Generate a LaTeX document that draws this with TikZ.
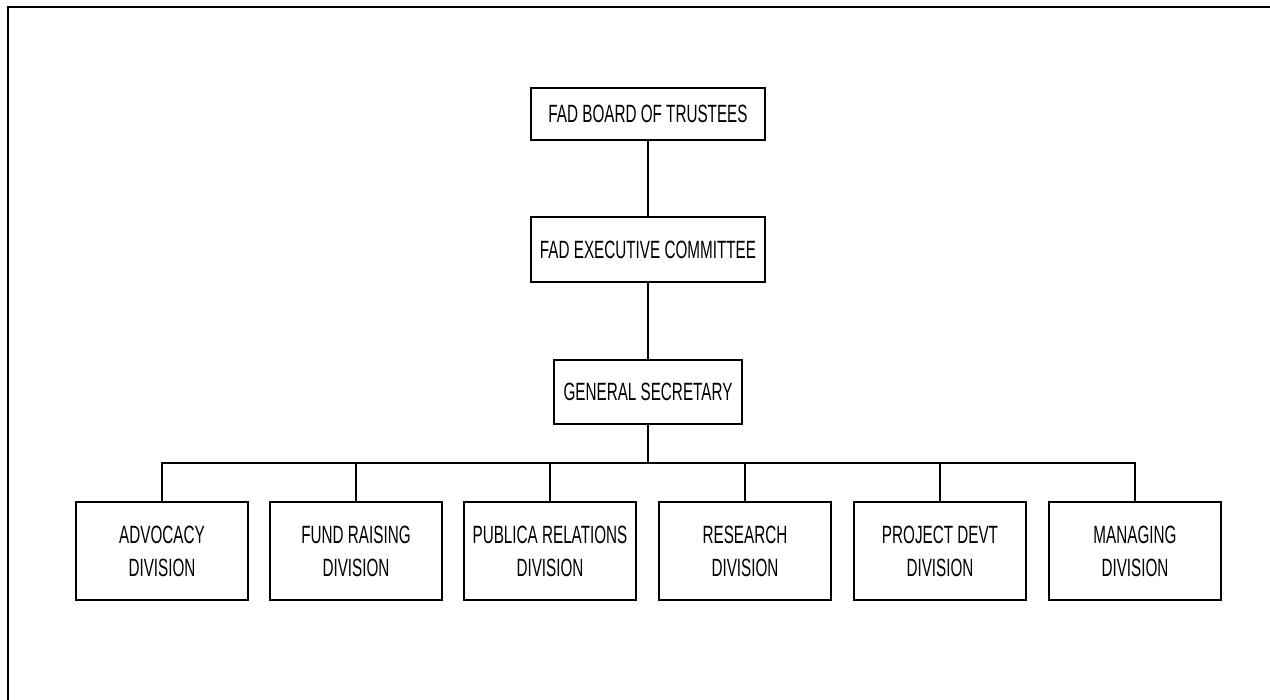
\documentclass[tikz,border=0pt]{standalone}
\usepackage{fontspec}
\setmainfont{Liberation Sans}[FakeStretch=0.61]
\begin{document}
\begin{tikzpicture}[x=1pt,y=-1pt,
  box/.style={draw=black,line width=2.6pt,fill=white,inner sep=0pt,
    align=center,font=\fontsize{25}{33}\selectfont},
  topbox/.style={box,minimum width=234pt},
  divbox/.style={box,minimum width=172pt,minimum height=98pt},
  link/.style={line width=2pt}]
\useasboundingbox (0,0) rectangle (1270,700);

% page frame
\draw[line width=2.6pt] (8,700) -- (8,7) -- (1270,7);

% upper levels
\node[topbox,minimum height=52pt] (board) at (648,114) {FAD BOARD OF TRUSTEES};
\node[topbox,minimum height=65pt] (exec) at (648,249.5) {FAD EXECUTIVE COMMITTEE};
\node[box,minimum width=188pt,minimum height=64pt] (gs) at (648,392) {GENERAL SECRETARY};

% divisions
\node[divbox] (adv) at (162,551) {ADVOCACY\\DIVISION};
\node[divbox] (fund) at (356,551) {FUND RAISING\\DIVISION};
\node[divbox] (pub) at (550,551) {PUBLICA RELATIONS\\DIVISION};
\node[divbox] (res) at (745,551) {RESEARCH\\DIVISION};
\node[divbox] (proj) at (940,551) {PROJECT DEVT\\DIVISION};
\node[divbox] (man) at (1135,551) {MANAGING\\DIVISION};

% connectors
\coordinate (bus) at (648,463);
\begin{scope}[on background layer/.try]
\draw[link] (board.south) -- (exec.north);
\draw[link] (exec.south) -- (gs.north);
\draw[link] (gs.south) -- (bus);
\draw[link] (adv.north) |- (bus) -| (man.north);
\foreach \d in {fund,pub,res,proj}
  \draw[link] (\d.north) -- (\d.north |- bus);
\end{scope}
\end{tikzpicture}
\end{document}
